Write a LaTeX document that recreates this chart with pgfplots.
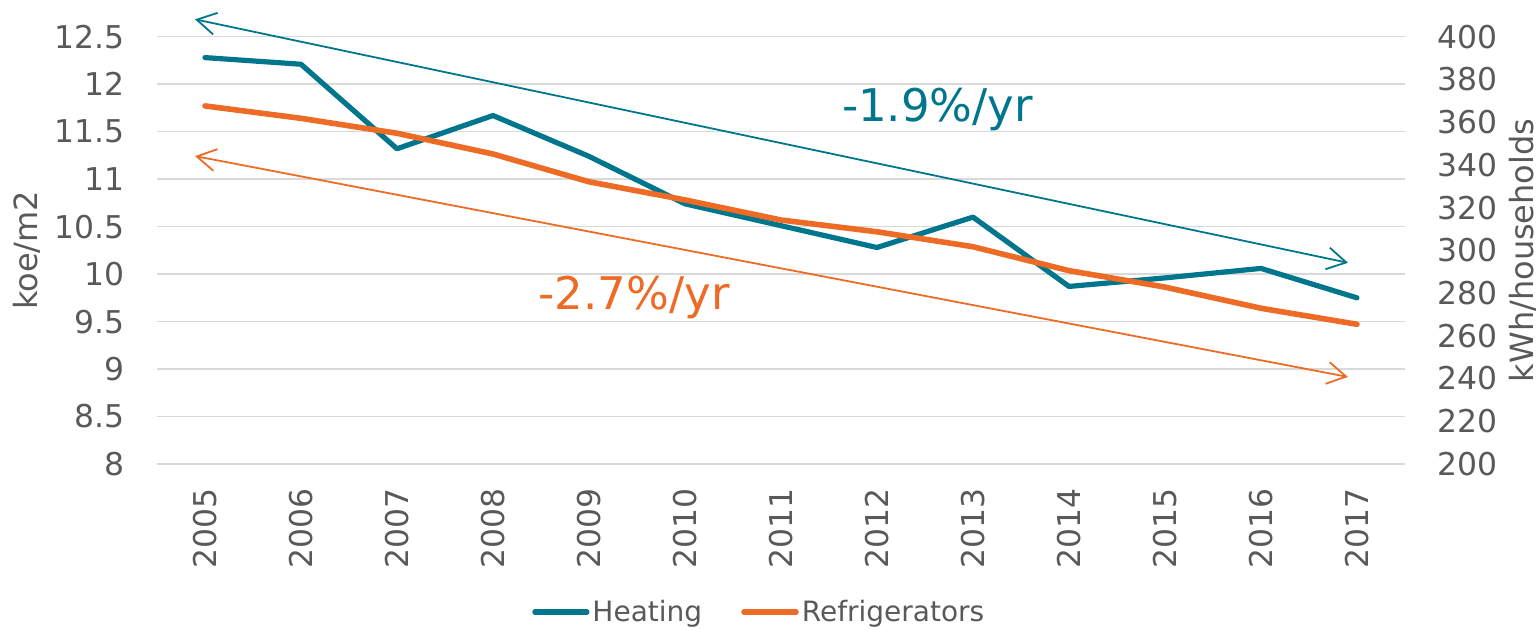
\documentclass[border=0pt]{standalone}
\usepackage{fontspec}
\setmainfont{DejaVu Sans}
\usepackage{pgfplots}
\pgfplotsset{compat=1.18}
\usetikzlibrary{arrows.meta}
\definecolor{teal1}{RGB}{0,118,141}
\definecolor{orange1}{RGB}{238,107,38}
\definecolor{textgray}{RGB}{89,89,89}
\definecolor{gridgray}{RGB}{217,217,217}
\pgfplotstableread{
year heat
2005 12.28
2006 12.21
2007 11.32
2008 11.67
2009 11.24
2010 10.74
2011 10.51
2012 10.28
2013 10.60
2014 9.87
2015 9.96
2016 10.06
2017 9.75
}\heat
\pgfplotstableread{
year fridge
2005 367.6
2006 361.8
2007 354.8
2008 345.1
2009 332.1
2010 323.6
2011 314.2
2012 308.7
2013 301.7
2014 290.5
2015 282.8
2016 272.9
2017 265.4
}\fridge
\begin{document}
\begin{tikzpicture}
\path[use as bounding box] (-78.5pt,-82.5pt) rectangle (691pt,232pt);
\begin{axis}[
  at={(0,0)}, anchor=south west,
  scale only axis, width=624pt, height=213.65pt,
  xmin=2004.5, xmax=2017.5,
  ymin=8, ymax=12.5,
  xtick={2005,...,2017},
  ytick={8,8.5,9,9.5,10,10.5,11,11.5,12,12.5},
  yticklabels={8,8.5,9,9.5,10,10.5,11,11.5,12,12.5},
  xticklabel={\pgfmathprintnumber[1000 sep=]{\tick}},
  axis y line*=left, axis x line*=bottom,
  axis line style={draw=none},
  major tick length=0pt,
  ymajorgrids, grid style={color=gridgray, line width=0.75pt},
  tick label style={font=\fontsize{15.7}{18}\selectfont, text=textgray},
  /pgf/number format/assume math mode=true,
  yticklabel style={inner sep=0pt, anchor=east, xshift=-16pt},
  xticklabel style={inner sep=0pt, yshift=-12pt, rotate=90, anchor=east},
  every axis y label/.style={at={(axis description cs:0,0.5)}, xshift=-65pt, rotate=90, anchor=center, font=\fontsize{16}{19}\selectfont, text=textgray},
  ylabel={koe/m2},
  clip=false,
  legend style={at={(axis description cs:0.483,-0.3464)}, anchor=center, draw=none, fill=none,
    legend columns=2, font=\fontsize{14}{17}\selectfont, text=textgray,
    nodes={inner xsep=1.5pt},
    /tikz/every even column/.append style={column sep=18pt}},
  legend image code/.code={\draw[#1, line cap=round] (0pt,0pt) -- (26pt,0pt);},
]
\addplot[teal1, line width=2.6pt, line join=round, line cap=round] table[x=year,y=heat] {\heat};
\addlegendentry{Heating}
\addlegendimage{orange1, line width=2.8pt}
\addlegendentry{Refrigerators}
\draw[teal1, line width=0.9pt, {Straight Barb[length=9.5pt,width=11pt]}-{Straight Barb[length=9.5pt,width=11pt]}] (axis cs:2004.896,12.683) -- (axis cs:2016.906,10.119);
\draw[orange1, line width=0.9pt, {Straight Barb[length=9.5pt,width=11pt]}-{Straight Barb[length=9.5pt,width=11pt]}] (axis cs:2004.896,11.243) -- (axis cs:2016.906,8.917);
\node[anchor=base, text=teal1, font=\fontsize{22.5}{26}\selectfont, inner sep=0pt] at (axis cs:2012.63,11.604) {-1.9\%/yr};
\node[anchor=base, text=orange1, font=\fontsize{22.5}{26}\selectfont, inner sep=0pt] at (axis cs:2009.47,9.631) {-2.7\%/yr};
\end{axis}
\begin{axis}[
  at={(0,0)}, anchor=south west,
  scale only axis, width=624pt, height=213.65pt,
  xmin=2004.5, xmax=2017.5,
  ymin=200, ymax=400,
  ytick={200,220,...,400},
  axis y line*=right, axis x line=none,
  axis line style={draw=none},
  major tick length=0pt,
  tick label style={font=\fontsize{15.7}{18}\selectfont, text=textgray},
  /pgf/number format/assume math mode=true,
  yticklabel style={inner sep=0pt, anchor=west, xshift=16pt},
  every axis y label/.style={at={(axis description cs:1,0.5)}, xshift=59pt, rotate=90, anchor=center, font=\fontsize{16}{19}\selectfont, text=textgray},
  ylabel={kWh/households},
  clip=false,
]
\addplot[orange1, line width=2.8pt, line join=round, line cap=round] table[x=year,y=fridge] {\fridge};
\end{axis}
\end{tikzpicture}
\end{document}
